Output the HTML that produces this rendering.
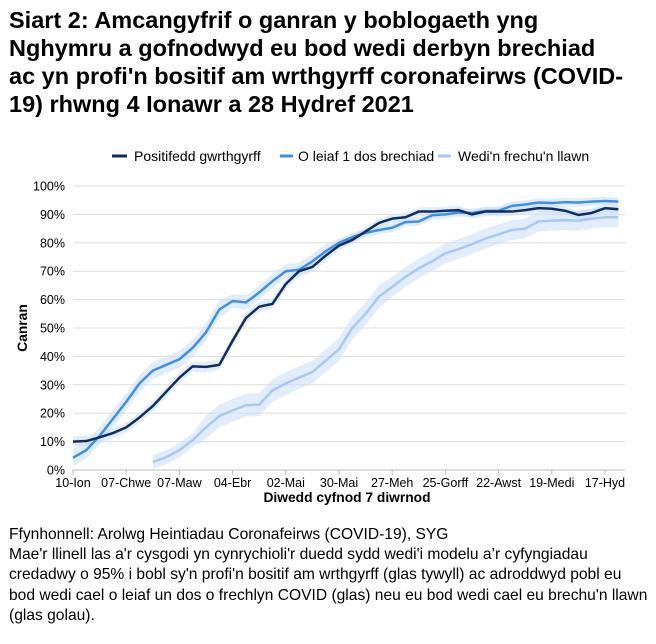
<!DOCTYPE html>
<html><head><meta charset="utf-8"><style>
body{margin:0;background:#fff;width:656px;height:644px;overflow:hidden;font-family:"Liberation Sans",sans-serif;color:#000}
.t{position:absolute;left:9px;top:6px;font-weight:bold;font-size:23.5px;line-height:28px;white-space:nowrap}
.f{position:absolute;left:9px;top:525px;font-size:15.6px;line-height:20.2px;white-space:nowrap}
svg{position:absolute;left:0;top:0}
</style></head><body>
<div class="t">Siart 2: Amcangyfrif o ganran y boblogaeth yng<br>Nghymru a gofnodwyd eu bod wedi derbyn brechiad<br>ac yn profi'n bositif am wrthgyrff coronafeirws (COVID-<br>19) rhwng 4 Ionawr a 28 Hydref 2021</div>
<svg id="s" width="656" height="644" font-family="Liberation Sans, sans-serif"></svg>
<div class="f">Ffynhonnell: Arolwg Heintiadau Coronafeirws (COVID-19), SYG<br>Mae'r llinell las a'r cysgodi yn cynrychioli'r duedd sydd wedi'i modelu a’r cyfyngiadau<br>credadwy o 95% i bobl sy'n profi'n bositif am wrthgyrff (glas tywyll) ac adroddwyd pobl eu<br>bod wedi cael o leiaf un dos o frechlyn COVID (glas) neu eu bod wedi cael eu brechu'n llawn<br>(glas golau).</div>
<script>
var s=document.getElementById('s'),h='';
var X0=73,W=13.3,Y0=470,K=2.84;
function x(i){return X0+W*i}function y(v){return Y0-K*v}
for(var g=0;g<=10;g++){h+='<line x1="73" x2="625" y1="'+y(g*10)+'" y2="'+y(g*10)+'" stroke="#ddd" stroke-width="1"/>';
h+='<text x="65" y="'+(y(g*10)+4.5)+'" font-size="12.5" text-anchor="end">'+(g*10)+'%</text>';}
h+='<line x1="73" x2="625" y1="470" y2="470" stroke="#bbb"/>';
var L=['10-Ion','07-Chwe','07-Maw','04-Ebr','02-Mai','30-Mai','27-Meh','25-Gorff','22-Awst','19-Medi','17-Hyd'];
for(var i=0;i<11;i++){var xx=x(i*4);h+='<line x1="'+xx+'" x2="'+xx+'" y1="470" y2="475" stroke="#bbb"/><text x="'+xx+'" y="487" font-size="12.5" text-anchor="middle">'+L[i]+'</text>';}
h+='<text x="347" y="502" font-size="13.8" font-weight="bold" text-anchor="middle">Diwedd cyfnod 7 diwrnod</text>';
h+='<text transform="translate(27,328) rotate(-90)" font-size="13.8" font-weight="bold" text-anchor="middle">Canran</text>';
var D=[10,10.2,11.5,13,15,18.5,22.5,27.5,32.5,36.5,36.3,37,45.5,53.5,57.5,58.5,65.5,70,71.5,75.5,79,81,84,87,88.5,89,91,91,91.3,91.5,90,91,91,91,91.5,92.2,92,91.3,89.8,90.5,92.2,91.8];
var M=[4.3,7,12,18,24,30.5,35,37,39,43,48.5,56.5,59.5,59,62.5,66.5,70,70.5,73.5,77,80,82,83.5,84.5,85.3,87.3,87.5,89.7,90,90.7,90.5,91.2,91.3,93,93.5,94.2,94,94.3,94.2,94.5,94.7,94.5];
var Lt=[2.8,4.5,7,10.5,15,19,21,22.8,23,28,30.5,32.5,34.5,38.5,42.5,50,55,61,64.5,68,71,73.5,76.3,77.8,79.5,81.5,83,84.5,85,87.5,87.8,88,87.8,88.5,89,89];
function band(a,off,wf,c){var u='',d='';for(var i=0;i<a.length;i++){var w=wf(i+off);u+=(i?'L':'M')+x(i+off)+','+y(a[i]+w);}
for(var i=a.length-1;i>=0;i--){var w=wf(i+off);d+='L'+x(i+off)+','+y(a[i]-w);}return '<path d="'+u+d+'Z" fill="'+c+'"/>';}
function line(a,off,c){var p='';for(var i=0;i<a.length;i++)p+=(i?'L':'M')+x(i+off)+','+y(a[i]);return '<path d="'+p+'" fill="none" stroke="'+c+'" stroke-width="2.5" stroke-linejoin="round"/>';}
h+=band(Lt,6,function(i){return i<10?2.5:i<24?4:3.5},'rgba(200,222,250,0.55)');
h+=band(M,0,function(i){return i<12?3:i<20?2.5:1.5},'rgba(200,222,250,0.55)');
h+=band(D,0,function(i){return i<20?1.8:1.5},'rgba(200,222,250,0.55)');
h+=line(Lt,6,'#a6c8f5');h+=line(M,0,'#3f8fe9');h+=line(D,0,'#0f2d60');
h+='<line x1="112" x2="127" y1="156" y2="156" stroke="#0f2d60" stroke-width="3"/><text x="134" y="161" font-size="14">Positifedd gwrthgyrff</text>';
h+='<line x1="280" x2="293" y1="156" y2="156" stroke="#3f8fe9" stroke-width="3"/><text x="298" y="161" font-size="14">O leiaf 1 dos brechiad</text>';
h+="<line x1=\"438\" x2=\"451\" y1=\"156\" y2=\"156\" stroke=\"#a6c8f5\" stroke-width=\"3\"/><text x=\"458\" y=\"161\" font-size=\"14\">Wedi'n frechu'n llawn</text>";
s.innerHTML=h;
</script>
</body></html>
